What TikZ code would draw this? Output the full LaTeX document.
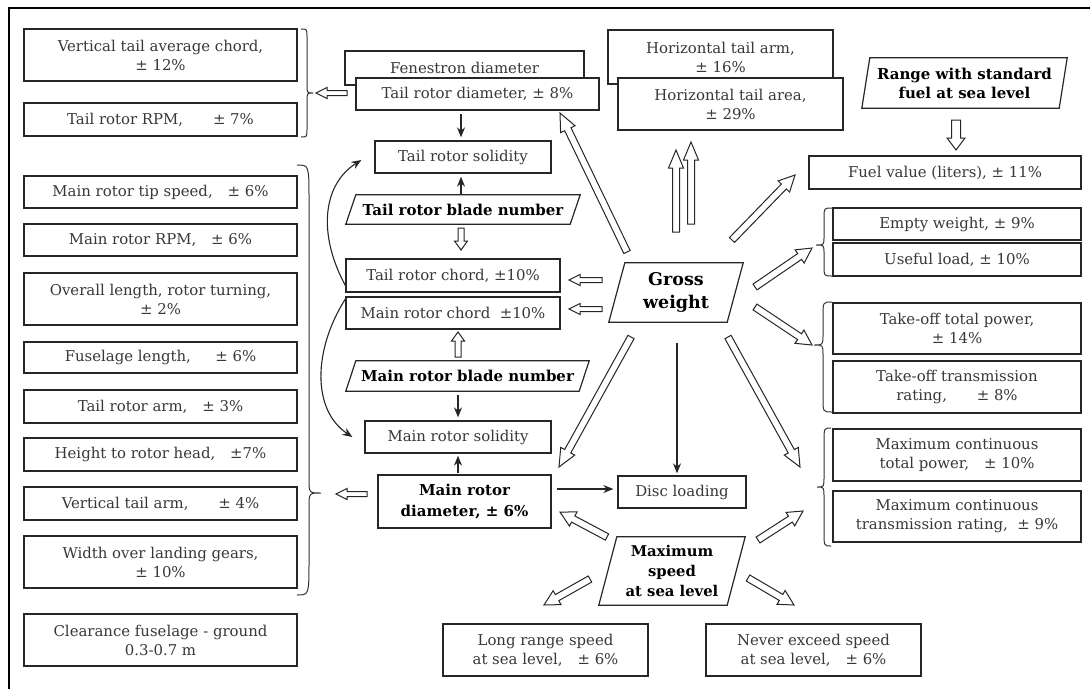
\documentclass[tikz,border=0pt]{standalone}
\usepackage{fontspec}
\setmainfont{DejaVu Serif}
\usetikzlibrary{calc,arrows.meta}
\newcommand\harrow[5]{%
  \coordinate (hA) at #1; \coordinate (hB) at #2;
  \coordinate (hN) at ($(hB)!#5pt!(hA)$);
  \draw[hol] ($(hA)!#3pt!90:(hB)$) -- ($(hN)!#3pt!90:(hB)$) -- ($(hN)!#4pt!90:(hB)$) -- (hB)
     -- ($(hN)!#4pt!-90:(hB)$) -- ($(hN)!#3pt!-90:(hB)$) -- ($(hA)!#3pt!-90:(hB)$) -- cycle;}
\newcommand\bracer[7]{%
  \draw[brc] ({#1},{#5}) .. controls ({#1+#2},{#5}) .. ({#1+#2},{#5+#3}) -- ({#1+#2},{#6-#4})
    .. controls ({#1+#2},{#6}) .. ({#1+2*#2},{#6}) .. controls ({#1+#2},{#6}) .. ({#1+#2},{#6+#4})
    -- ({#1+#2},{#7-#3}) .. controls ({#1+#2},{#7}) .. ({#1},{#7});}
\newcommand\parg[2]{\draw[pl] (#1.south west) -- ([xshift=-#2]#1.south east) -- (#1.north east) -- ([xshift=#2]#1.north west) -- cycle;}
\begin{document}
\begin{tikzpicture}[x=1pt,y=-1pt,
  bx/.style={draw=black!85, line width=1.3pt, fill=white, inner sep=0pt, align=center, text=black!78, font=\fontsize{14.9}{19}\selectfont},
  pg/.style={inner sep=0pt, align=center, font=\fontsize{15}{19}\selectfont\bfseries},
  pl/.style={draw=black!85, line width=1.2pt},
  hol/.style={draw=black!85, line width=1pt, fill=white, line join=miter},
  ar/.style={draw=black!85, line width=1.1pt, -{Stealth[length=10pt,width=8pt]}},
  brc/.style={draw=black!80, line width=1pt}]
\useasboundingbox (0,0) rectangle (1090,689);
\draw[line width=2.2pt] (1090,8) -- (9,8) -- (9,689);
% left column
\node[bx, minimum width=273, minimum height=52] (vtac) at (160.5,55) {Vertical tail average chord,\\± 12\%};
\node[bx, minimum width=273, minimum height=33] (trrpm) at (160.5,119.5) {Tail rotor RPM,\qquad ± 7\%};
\node[bx, minimum width=273, minimum height=32] (mrts) at (160.5,192) {Main rotor tip speed,\quad ± 6\%};
\node[bx, minimum width=273, minimum height=32] (mrrpm) at (160.5,240) {Main rotor RPM,\quad ± 6\%};
\node[bx, minimum width=273, minimum height=52] (ol) at (160.5,299) {Overall length, rotor turning,\\± 2\%};
\node[bx, minimum width=273, minimum height=31] (fl) at (160.5,357.5) {Fuselage length,\quad\ \ ± 6\%};
\node[bx, minimum width=273, minimum height=33] (tra) at (160.5,406.5) {Tail rotor arm,\quad ± 3\%};
\node[bx, minimum width=273, minimum height=33] (hrh) at (160.5,454.5) {Height to rotor head,\quad ±7\%};
\node[bx, minimum width=273, minimum height=33] (vta) at (160.5,503.5) {Vertical tail arm,\qquad ± 4\%};
\node[bx, minimum width=273, minimum height=52] (wlg) at (160.5,562) {Width over landing gears,\\± 10\%};
\node[bx, minimum width=273, minimum height=52] (cfg) at (160.5,640) {Clearance fuselage - ground\\0.3-0.7 m};
% middle column
\node[bx, minimum width=239, minimum height=34] (fen) at (464.5,68) {Fenestron diameter};
\node[bx, minimum width=243, minimum height=32] (trd) at (477.5,94) {Tail rotor diameter,\ ± 8\%};
\node[bx, minimum width=176, minimum height=32] (trs) at (463,157) {Tail rotor solidity};
\node[pg, minimum width=234, minimum height=29] (trbn) at (463,209.5) {Tail rotor blade number};
\parg{trbn}{10}
\node[bx, minimum width=214, minimum height=33] (trc) at (453,275.5) {Tail rotor chord,\ ±10\%};
\node[bx, minimum width=214, minimum height=32] (mrc) at (453,313) {Main rotor chord\ \ ±10\%};
\node[pg, minimum width=243, minimum height=30] (mrbn) at (467.5,376) {Main rotor blade number};
\parg{mrbn}{10}
\node[bx, minimum width=186, minimum height=32] (mrs) at (458,437) {Main rotor solidity};
\node[bx, minimum width=173, minimum height=53, text=black, font=\fontsize{15}{21}\selectfont\bfseries] (mrd) at (464.5,501.5) {Main rotor\\diameter,\ ± 6\%};
\node[bx, minimum width=128, minimum height=32] (dl) at (682,492) {Disc loading};
\node[pg, minimum width=134, minimum height=59, font=\fontsize{17.5}{23}\selectfont\bfseries] (gw) at (676,292.5) {Gross\\weight};
\parg{gw}{16}
\node[pg, minimum width=146, minimum height=68, font=\fontsize{14.8}{20}\selectfont\bfseries] (ms) at (672,571) {Maximum\\speed\\at sea level};
\parg{ms}{18}
\node[bx, minimum width=205, minimum height=52] (lrs) at (545.5,650) {Long range speed\\at sea level,\quad ± 6\%};
\node[bx, minimum width=215, minimum height=52] (nes) at (813.5,650) {Never exceed speed\\at sea level,\quad ± 6\%};
% top right
\node[bx, minimum width=225, minimum height=54] (hta) at (720.5,57) {Horizontal tail arm,\\± 16\%};
\node[bx, minimum width=225, minimum height=52] (htar) at (730.5,104) {Horizontal tail area,\\± 29\%};
\node[pg, minimum width=205, minimum height=50] (rng) at (964.5,83) {Range with standard\\fuel at sea level};
\parg{rng}{8}
\node[bx, minimum width=272, minimum height=33] (fv) at (945,172.5) {Fuel value (liters),\ ± 11\%};
\node[bx, minimum width=248, minimum height=32] (ew) at (957,224) {Empty weight,\ ± 9\%};
\node[bx, minimum width=248, minimum height=33] (ul) at (957,259.5) {Useful load,\ ± 10\%};
\node[bx, minimum width=248, minimum height=51] (totp) at (957,328.5) {Take-off total power,\\± 14\%};
\node[bx, minimum width=248, minimum height=52] (ottr) at (957,387) {Take-off transmission\\rating,\qquad ± 8\%};
\node[bx, minimum width=248, minimum height=52] (mctp) at (957,455) {Maximum continuous\\total power,\quad ± 10\%};
\node[bx, minimum width=248, minimum height=51] (mctr) at (957,516.5) {Maximum continuous\\transmission rating,\ \ ± 9\%};
% braces
\bracer{301}{6}{8}{8}{29}{93}{137}
\bracer{297}{12}{35}{14}{165}{493}{595}
\bracer{832}{-8}{10}{8}{208}{245}{276}
\bracer{832}{-9}{14}{10}{302}{345}{412}
\bracer{831}{-7}{14}{10}{428}{487}{546}
% thin arrows
\draw[ar, shorten <=3pt, shorten >=3pt] ([xshift=-2]trs.north |- trd.south) -- ([xshift=-2]trs.north);
\draw[ar, shorten <=1pt, shorten >=3pt] ([xshift=-2]trs.south |- trbn.north) -- ([xshift=-2]trs.south);
\draw[ar, shorten <=4pt, shorten >=3pt] (mrs.north |- mrbn.south) -- (mrs.north);
\draw[ar, shorten <=1pt, shorten >=2pt] (mrs.south |- mrd.north) -- (mrs.south);
\draw[ar, shorten <=21pt, shorten >=2pt] ([xshift=-5]dl.north |- gw.south) -- ([xshift=-5]dl.north);
\draw[ar, shorten <=5pt, shorten >=4pt] ([yshift=3]mrd.east |- dl.west) -- ([yshift=3]dl.west);
\draw[ar] ([yshift=-10]trc.west) .. controls (318,235) and (322,185) .. ([yshift=-3,xshift=-13]trs.west);
\draw[ar] ([yshift=14]mrc.west) .. controls (313,350) and (312,410) .. ([yshift=0,xshift=-12]mrs.west);
% hollow arrows
\harrow{(347,93)}{(316,93)}{2.5}{5.5}{11}
\harrow{(461,228)}{(461,250)}{3}{6.5}{9}
\harrow{(602,280)}{(569,280)}{2.5}{5.5}{11}
\harrow{(602,309)}{(569,309)}{2.5}{5.5}{11}
\harrow{(458,357)}{(458,332)}{3}{6.5}{9}
\harrow{(367,494)}{(336,494)}{2.5}{5.5}{11}
\harrow{(631,337)}{(559,467)}{3.5}{8}{18}
\harrow{(627,252)}{(560,113)}{3.5}{8}{18}
\harrow{(676,232)}{(676,150)}{3.5}{7.5}{18}
\harrow{(691,224)}{(691,142)}{3.5}{7.5}{18}
\harrow{(956,120)}{(956,150)}{4.5}{9}{12}
\harrow{(732,240)}{(795,175)}{3.5}{8}{16}
\harrow{(755,287)}{(812,248)}{3.5}{8}{15}
\harrow{(755,307)}{(812,345)}{3.5}{8}{15}
\harrow{(728,337)}{(800,467)}{3.5}{8}{18}
\harrow{(607,537)}{(560,512)}{3.5}{8}{15}
\harrow{(590,579)}{(544,605)}{3.5}{8}{15}
\harrow{(748,578)}{(794,605)}{3.5}{8}{15}
\harrow{(758,540)}{(803,511)}{3.5}{8}{15}
\end{tikzpicture}
\end{document}
